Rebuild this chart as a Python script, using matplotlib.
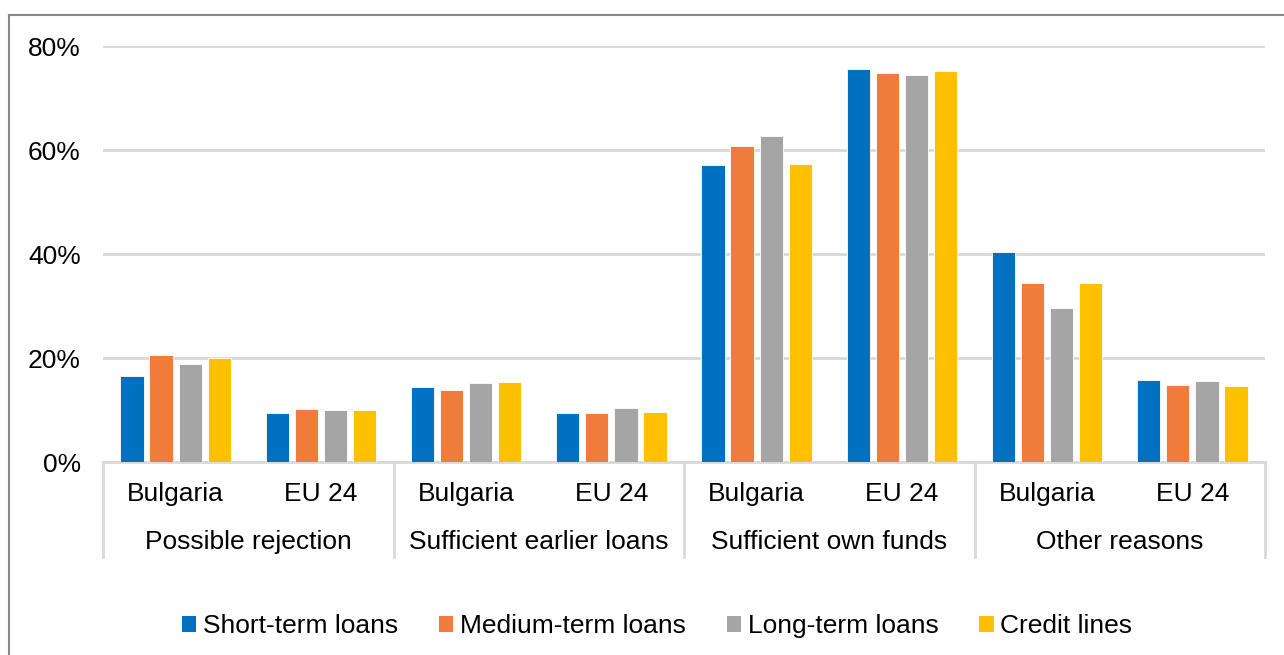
import numpy as np
import matplotlib.pyplot as plt
from matplotlib.patches import Patch
from matplotlib.lines import Line2D

plt.rcParams['font.family'] = ['Liberation Sans', 'DejaVu Sans']

# data
groups = ['Possible rejection', 'Sufficient earlier loans', 'Sufficient own funds', 'Other reasons']
subcats = ['Bulgaria', 'EU 24']
series = ['Short-term loans', 'Medium-term loans', 'Long-term loans', 'Credit lines']
short_term = [16.5, 9.4, 14.4, 9.5, 57.1, 75.6, 40.3, 15.8]
medium_term = [20.6, 10.2, 13.8, 9.5, 60.8, 74.9, 34.4, 14.8]
long_term = [18.8, 10.0, 15.1, 10.3, 62.7, 74.4, 29.6, 15.6]
credit_lines = [20.0, 10.0, 15.3, 9.7, 57.4, 75.2, 34.4, 14.7]
colors = ['#0070C0', '#F07C3B', '#A5A5A5', '#FFC000']
yticks = [0, 20, 40, 60, 80]

fig = plt.figure(figsize=(12.84, 6.55), dpi=100)
ax = fig.add_axes([103/1284, 1-462/655, (1265-103)/1284, 416/655])

x = np.arange(len(short_term))
pitch = 0.2
w = 0.16
for i, vals in enumerate([short_term, medium_term, long_term, credit_lines]):
    ax.bar(x + (i - 1.5)*pitch, vals, width=w, color=colors[i],
           edgecolor='white', linewidth=0.6, zorder=3)

ax.set_xlim(-0.5, 7.5)
ax.set_ylim(0, 80)
ax.set_yticks(yticks)
ax.set_yticklabels([f'{t}%' for t in yticks])
ax.set_xticks([])
ax.tick_params(axis='y', length=0, pad=16, labelsize=19)
ax.grid(axis='y', color='#D9D9D9', linewidth=2, zorder=0)
for s in ['top', 'right', 'left']:
    ax.spines[s].set_visible(False)
ax.spines['bottom'].set_color('#D9D9D9')
ax.spines['bottom'].set_linewidth(2)

# two-level category labels
trans = ax.get_xaxis_transform()
for j in range(len(x)):
    ax.text(x[j], -32/416, subcats[j % 2], transform=trans, ha='center', va='center', fontsize=19)
for g, name in enumerate(groups):
    ax.text(2*g + 0.5, -80/416, name, transform=trans, ha='center', va='center', fontsize=19)
for sx in [-0.5, 1.5, 3.5, 5.5, 7.5]:
    ax.plot([sx, sx], [0, -95/416], transform=trans, color='#D9D9D9', linewidth=2, clip_on=False)

# legend
handles = [Patch(facecolor=c, edgecolor='none') for c in colors]
fig.legend(handles, series, loc='center', bbox_to_anchor=(657/1284, 1-626/655), ncol=4,
           frameon=False, fontsize=19, handlelength=0.55, handleheight=0.55,
           handletextpad=0.25, columnspacing=1.55)

# outer chart border (left and top)
fig.add_artist(Line2D([9/1284, 9/1284], [0, 1-15/655], color='#898989', linewidth=1.5))
fig.add_artist(Line2D([9/1284, 1], [1-15/655, 1-15/655], color='#898989', linewidth=1.5))

fig.savefig('out.png', dpi=100)
